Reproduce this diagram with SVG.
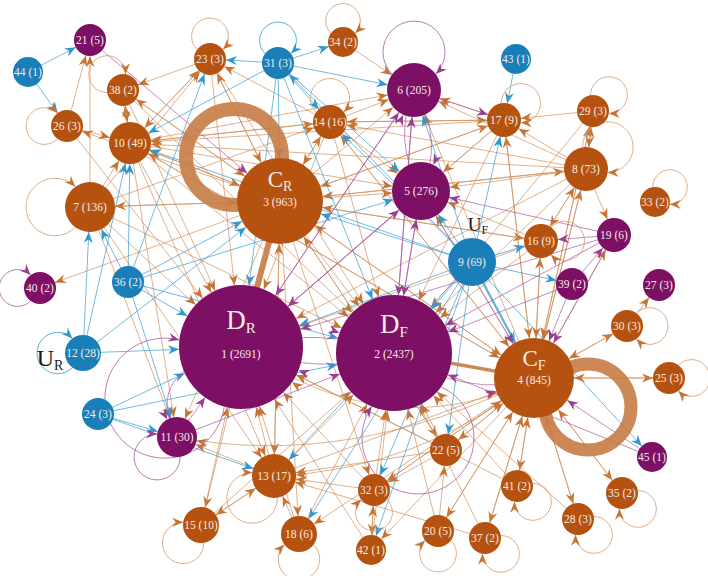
<svg xmlns="http://www.w3.org/2000/svg" xmlns:xlink="http://www.w3.org/1999/xlink" width="708" height="576" viewBox="0 0 708 576">
<style>
.eo path{fill:none;stroke:#d08a55;stroke-width:.9;stroke-opacity:.75}
.eb path{fill:none;stroke:#3c9fd2;stroke-width:.9;stroke-opacity:.8}
.ep path{fill:none;stroke:#a4559c;stroke-width:.9;stroke-opacity:.75}
.eo .a15{marker-end:url(#o15)}.eo .a16{marker-end:url(#o16)}.eo .a17{marker-end:url(#o17)}.eo .a18{marker-end:url(#o18)}.eo .a20{marker-end:url(#o20)}.eo .a21{marker-end:url(#o21)}.eo .a22{marker-end:url(#o22)}.eo .a25{marker-end:url(#o25)}.eo .a27{marker-end:url(#o27)}.eo .a29{marker-end:url(#o29)}.eo .a40{marker-end:url(#o40)}.eo .a43{marker-end:url(#o43)}.eo .a58{marker-end:url(#o58)}.eo .a62{marker-end:url(#o62)}
.eb .a15{marker-end:url(#b15)}.eb .a16{marker-end:url(#b16)}.eb .a17{marker-end:url(#b17)}.eb .a18{marker-end:url(#b18)}.eb .a20{marker-end:url(#b20)}.eb .a21{marker-end:url(#b21)}.eb .a22{marker-end:url(#b22)}.eb .a25{marker-end:url(#b25)}.eb .a27{marker-end:url(#b27)}.eb .a29{marker-end:url(#b29)}.eb .a40{marker-end:url(#b40)}.eb .a43{marker-end:url(#b43)}.eb .a58{marker-end:url(#b58)}.eb .a62{marker-end:url(#b62)}
.ep .a17{marker-end:url(#p17)}.ep .a20{marker-end:url(#p20)}.ep .a27{marker-end:url(#p27)}.ep .a29{marker-end:url(#p29)}.ep .a40{marker-end:url(#p40)}.ep .a43{marker-end:url(#p43)}.ep .a58{marker-end:url(#p58)}.ep .a62{marker-end:url(#p62)}
.lo path{fill:none;stroke:#d9a47c;stroke-width:.9;marker-end:url(#ol)}
.lb path{fill:none;stroke:#4aa6d6;stroke-width:.9;marker-end:url(#bl)}
.lp path{fill:none;stroke:#b46cab;stroke-width:.9;marker-end:url(#pl)}
.ring{fill:none;stroke:#c77c45;opacity:.9}
.no circle{fill:#b5520f}.np circle{fill:#7d0f64}.nb circle{fill:#1a7fb8}
.t{font-family:"Liberation Serif",serif;font-size:11.5px;fill:#f4ece6;text-anchor:middle}
.L{font-family:"Liberation Serif",serif;fill:#f4ece6;text-anchor:middle}
.U{font-family:"Liberation Serif",serif;fill:#1a1a1a;text-anchor:middle}
</style>
<defs>
<path id="ah" d="M0,-4.5L11,0L0,4.5L3.5,0Z"/>
<marker id="o15" refX="26" orient="auto" markerUnits="userSpaceOnUse" overflow="visible"><use href="#ah" fill="#c47535"/></marker>
<marker id="o16" refX="27" orient="auto" markerUnits="userSpaceOnUse" overflow="visible"><use href="#ah" fill="#c47535"/></marker>
<marker id="o17" refX="28" orient="auto" markerUnits="userSpaceOnUse" overflow="visible"><use href="#ah" fill="#c47535"/></marker>
<marker id="o18" refX="29" orient="auto" markerUnits="userSpaceOnUse" overflow="visible"><use href="#ah" fill="#c47535"/></marker>
<marker id="o20" refX="31" orient="auto" markerUnits="userSpaceOnUse" overflow="visible"><use href="#ah" fill="#c47535"/></marker>
<marker id="o21" refX="32" orient="auto" markerUnits="userSpaceOnUse" overflow="visible"><use href="#ah" fill="#c47535"/></marker>
<marker id="o22" refX="33" orient="auto" markerUnits="userSpaceOnUse" overflow="visible"><use href="#ah" fill="#c47535"/></marker>
<marker id="o25" refX="36" orient="auto" markerUnits="userSpaceOnUse" overflow="visible"><use href="#ah" fill="#c47535"/></marker>
<marker id="o27" refX="38" orient="auto" markerUnits="userSpaceOnUse" overflow="visible"><use href="#ah" fill="#c47535"/></marker>
<marker id="o29" refX="40" orient="auto" markerUnits="userSpaceOnUse" overflow="visible"><use href="#ah" fill="#c47535"/></marker>
<marker id="o40" refX="51" orient="auto" markerUnits="userSpaceOnUse" overflow="visible"><use href="#ah" fill="#c47535"/></marker>
<marker id="o43" refX="54" orient="auto" markerUnits="userSpaceOnUse" overflow="visible"><use href="#ah" fill="#c47535"/></marker>
<marker id="o58" refX="69" orient="auto" markerUnits="userSpaceOnUse" overflow="visible"><use href="#ah" fill="#c47535"/></marker>
<marker id="o62" refX="73" orient="auto" markerUnits="userSpaceOnUse" overflow="visible"><use href="#ah" fill="#c47535"/></marker>
<marker id="b15" refX="26" orient="auto" markerUnits="userSpaceOnUse" overflow="visible"><use href="#ah" fill="#2f98cc"/></marker>
<marker id="b16" refX="27" orient="auto" markerUnits="userSpaceOnUse" overflow="visible"><use href="#ah" fill="#2f98cc"/></marker>
<marker id="b17" refX="28" orient="auto" markerUnits="userSpaceOnUse" overflow="visible"><use href="#ah" fill="#2f98cc"/></marker>
<marker id="b18" refX="29" orient="auto" markerUnits="userSpaceOnUse" overflow="visible"><use href="#ah" fill="#2f98cc"/></marker>
<marker id="b20" refX="31" orient="auto" markerUnits="userSpaceOnUse" overflow="visible"><use href="#ah" fill="#2f98cc"/></marker>
<marker id="b21" refX="32" orient="auto" markerUnits="userSpaceOnUse" overflow="visible"><use href="#ah" fill="#2f98cc"/></marker>
<marker id="b22" refX="33" orient="auto" markerUnits="userSpaceOnUse" overflow="visible"><use href="#ah" fill="#2f98cc"/></marker>
<marker id="b25" refX="36" orient="auto" markerUnits="userSpaceOnUse" overflow="visible"><use href="#ah" fill="#2f98cc"/></marker>
<marker id="b27" refX="38" orient="auto" markerUnits="userSpaceOnUse" overflow="visible"><use href="#ah" fill="#2f98cc"/></marker>
<marker id="b29" refX="40" orient="auto" markerUnits="userSpaceOnUse" overflow="visible"><use href="#ah" fill="#2f98cc"/></marker>
<marker id="b40" refX="51" orient="auto" markerUnits="userSpaceOnUse" overflow="visible"><use href="#ah" fill="#2f98cc"/></marker>
<marker id="b43" refX="54" orient="auto" markerUnits="userSpaceOnUse" overflow="visible"><use href="#ah" fill="#2f98cc"/></marker>
<marker id="b58" refX="69" orient="auto" markerUnits="userSpaceOnUse" overflow="visible"><use href="#ah" fill="#2f98cc"/></marker>
<marker id="b62" refX="73" orient="auto" markerUnits="userSpaceOnUse" overflow="visible"><use href="#ah" fill="#2f98cc"/></marker>
<marker id="p17" refX="28" orient="auto" markerUnits="userSpaceOnUse" overflow="visible"><use href="#ah" fill="#9a3f90"/></marker>
<marker id="p20" refX="31" orient="auto" markerUnits="userSpaceOnUse" overflow="visible"><use href="#ah" fill="#9a3f90"/></marker>
<marker id="p27" refX="38" orient="auto" markerUnits="userSpaceOnUse" overflow="visible"><use href="#ah" fill="#9a3f90"/></marker>
<marker id="p29" refX="40" orient="auto" markerUnits="userSpaceOnUse" overflow="visible"><use href="#ah" fill="#9a3f90"/></marker>
<marker id="p40" refX="51" orient="auto" markerUnits="userSpaceOnUse" overflow="visible"><use href="#ah" fill="#9a3f90"/></marker>
<marker id="p43" refX="54" orient="auto" markerUnits="userSpaceOnUse" overflow="visible"><use href="#ah" fill="#9a3f90"/></marker>
<marker id="p58" refX="69" orient="auto" markerUnits="userSpaceOnUse" overflow="visible"><use href="#ah" fill="#9a3f90"/></marker>
<marker id="p62" refX="73" orient="auto" markerUnits="userSpaceOnUse" overflow="visible"><use href="#ah" fill="#9a3f90"/></marker>
<marker id="ol" refX="11" orient="auto" markerUnits="userSpaceOnUse" overflow="visible"><use href="#ah" fill="#c47535"/></marker>
<marker id="bl" refX="11" orient="auto" markerUnits="userSpaceOnUse" overflow="visible"><use href="#ah" fill="#2f98cc"/></marker>
<marker id="pl" refX="11" orient="auto" markerUnits="userSpaceOnUse" overflow="visible"><use href="#ah" fill="#9a3f90"/></marker>
</defs>
<rect width="708" height="576" fill="#ffffff"/>
<g id="connectors">
<g class="eo">
<path class="a58" d="M280 201L394 353"/><path class="a21" d="M280 201L130 143"/><path class="a25" d="M280 201L90 207"/><path class="a17" d="M280 201L330 122"/><path class="a16" d="M280 201L210 59"/><path class="a16" d="M280 201L123 90"/><path class="a27" d="M280 201L414 90"/><path class="a29" d="M280 201L421 191"/><path class="a17" d="M280 201L504 120"/><path class="a22" d="M280 201L274 476"/><path class="a20" d="M280 201L177 437"/><path class="a40" d="M280 201L534 378"/><path class="a18" d="M280 201L201 525"/><path class="a18" d="M280 201L299 534"/><path class="a16" d="M280 201L374 490"/><path class="a16" d="M280 201L446 450"/><path class="a16" d="M280 201L67 126"/><path class="a22" d="M280 201L586 169"/><path class="a17" d="M280 201L541 241"/><path class="a16" d="M280 201L40 288"/>
<path class="a62" d="M534 378Q390 450 241 347"/><path class="a43" d="M534 378L280 201"/><path class="a29" d="M534 378L421 191"/><path class="a27" d="M534 378L414 90"/><path class="a22" d="M534 378L586 169"/><path class="a17" d="M534 378L541 241"/><path class="a17" d="M534 378L504 120"/><path class="a16" d="M534 378L669 378"/><path class="a16" d="M534 378L627 326"/><path class="a16" d="M534 378L517 486"/><path class="a16" d="M534 378L578 519"/><path class="a16" d="M534 378L622 493"/><path class="a16" d="M534 378L485 538"/><path class="a16" d="M534 378L438 531"/><path class="a16" d="M534 378L446 450"/><path class="a22" d="M534 378Q420 470 274 476"/><path class="a16" d="M534 378L374 490"/><path class="a15" d="M534 378L371 550"/><path class="a17" d="M534 378L330 122"/><path class="a21" d="M534 378L130 143"/><path class="a16" d="M534 378L593 111"/><path class="a17" d="M534 378L614 235"/><path class="a18" d="M534 378L299 534"/><path class="a20" d="M534 378Q350 470 177 437"/>
<path class="a62" d="M90 207L241 347"/><path class="a58" d="M90 207L394 353"/><path class="a43" d="M90 207L280 201"/><path class="a21" d="M90 207L130 143"/><path class="a22" d="M90 207L274 476"/><path class="a20" d="M90 207L177 437"/><path class="a16" d="M90 207L210 59"/><path class="a16" d="M90 207L90 40"/><path class="a17" d="M90 207L330 122"/>
<path class="a62" d="M130 143L241 347"/><path class="a58" d="M130 143L394 353"/><path class="a43" d="M130 143L280 201"/><path class="a16" d="M130 143L123 90"/><path class="a22" d="M130 143L274 476"/><path class="a20" d="M130 143L177 437"/><path class="a16" d="M130 143L210 59"/><path class="a29" d="M130 143L421 191"/><path class="a17" d="M130 143L330 122"/><path class="a27" d="M130 143L414 90"/><path class="a40" d="M130 143L534 378"/>
<path class="a58" d="M586 169L394 353"/><path class="a62" d="M586 169L241 347"/><path class="a40" d="M586 169L534 378"/><path class="a29" d="M586 169L421 191"/><path class="a17" d="M586 169L504 120"/><path class="a43" d="M586 169L280 201"/><path class="a17" d="M586 169L614 235"/><path class="a17" d="M586 169L541 241"/><path class="a21" d="M586 169L130 143"/><path class="a17" d="M586 169L330 122"/><path class="a16" d="M586 169L593 111"/><path class="a27" d="M586 169L414 90"/>
<path class="a62" d="M330 122L241 347"/><path class="a58" d="M330 122L394 353"/><path class="a43" d="M330 122L280 201"/><path class="a27" d="M330 122L414 90"/><path class="a29" d="M330 122L421 191"/><path class="a21" d="M330 122L130 143"/><path class="a16" d="M330 122L210 59"/><path class="a40" d="M330 122L534 378"/><path class="a17" d="M330 122L504 120"/>
<path class="a58" d="M504 120L394 353"/><path class="a29" d="M504 120L421 191"/><path class="a62" d="M504 120L241 347"/><path class="a43" d="M504 120L280 201"/><path class="a40" d="M504 120L534 378"/><path class="a27" d="M504 120L414 90"/><path class="a17" d="M504 120L330 122"/><path class="a21" d="M504 120L130 143"/>
<path class="a58" d="M541 241L394 353"/><path class="a40" d="M541 241L534 378"/><path class="a29" d="M541 241L421 191"/><path class="a62" d="M541 241L241 347"/><path class="a43" d="M541 241L280 201"/><path class="a22" d="M541 241L586 169"/>
<path class="a62" d="M274 476L241 347"/><path class="a58" d="M274 476L394 353"/><path class="a20" d="M274 476L177 437"/><path class="a40" d="M274 476L534 378"/><path class="a18" d="M274 476L201 525"/><path class="a43" d="M274 476L280 201"/>
<path class="a62" d="M446 450L241 347"/><path class="a58" d="M446 450L394 353"/><path class="a40" d="M446 450L534 378"/><path class="a22" d="M446 450L274 476"/><path class="a16" d="M446 450L374 490"/><path class="a43" d="M446 450L280 201"/>
<path class="a62" d="M374 490L241 347"/><path class="a58" d="M374 490L394 353"/><path class="a22" d="M374 490L274 476"/><path class="a15" d="M374 490L371 550"/><path class="a40" d="M374 490L534 378"/>
<path class="a62" d="M299 534L241 347"/><path class="a22" d="M299 534L274 476"/><path class="a58" d="M299 534L394 353"/>
<path class="a62" d="M201 525L241 347"/><path class="a22" d="M201 525L274 476"/><path class="a58" d="M201 525L394 353"/>
<path class="a58" d="M438 531L394 353"/><path class="a40" d="M438 531L534 378"/><path class="a16" d="M438 531L446 450"/>
<path class="a40" d="M517 486L534 378"/><path class="a58" d="M517 486L394 353"/><path class="a62" d="M517 486L241 347"/>
<path class="a40" d="M578 519L534 378"/><path class="a58" d="M578 519L394 353"/>
<path class="a40" d="M622 493L534 378"/>
<path class="a40" d="M485 538L534 378"/><path class="a58" d="M485 538L394 353"/><path class="a22" d="M485 538L274 476"/>
<path class="a58" d="M371 550L394 353"/><path class="a62" d="M371 550L241 347"/><path class="a16" d="M371 550L374 490"/>
<path class="a40" d="M669 378L534 378"/>
<path class="a40" d="M627 326L534 378"/><path class="a16" d="M627 326L659 285"/>
<path class="a62" d="M210 59L241 347"/><path class="a43" d="M210 59L280 201"/><path class="a21" d="M210 59L130 143"/><path class="a58" d="M210 59L394 353"/><path class="a16" d="M210 59L123 90"/>
<path class="a21" d="M123 90L130 143"/><path class="a62" d="M123 90L241 347"/><path class="a43" d="M123 90L280 201"/><path class="a58" d="M123 90L394 353"/>
<path class="a16" d="M67 126L90 40"/><path class="a21" d="M67 126L130 143"/><path class="a62" d="M67 126L241 347"/>
<path class="a17" d="M593 111L504 120"/><path class="a22" d="M593 111L586 169"/><path class="a40" d="M593 111L534 378"/><path class="a58" d="M593 111L394 353"/>
<path class="a27" d="M343 42L414 90"/>
</g>
<g class="eb">
<path class="a16" d="M28 72L90 40"/><path class="a16" d="M28 72L67 126"/><path class="a17" d="M516 59L504 120"/>
<path class="a15" d="M278 63L343 42"/><path class="a27" d="M278 63L414 90"/><path class="a17" d="M278 63L330 122"/><path class="a43" d="M278 63L280 201"/><path class="a21" d="M278 63L130 143"/><path class="a29" d="M278 63L421 191"/><path class="a62" d="M278 63L241 347"/><path class="a58" d="M278 63L394 353"/><path class="a16" d="M278 63L210 59"/>
<path class="a25" d="M128 282L90 207"/><path class="a21" d="M128 282L130 143"/><path class="a43" d="M128 282L280 201"/><path class="a62" d="M128 282L241 347"/><path class="a16" d="M128 282L210 59"/><path class="a29" d="M128 282L421 191"/><path class="a58" d="M128 282L394 353"/><path class="a20" d="M128 282L177 437"/>
<path class="a25" d="M83 353L90 207"/><path class="a62" d="M83 353L241 347"/><path class="a21" d="M83 353L130 143"/><path class="a43" d="M83 353L280 201"/>
<path class="a62" d="M98 414L241 347"/><path class="a20" d="M98 414L177 437"/><path class="a22" d="M98 414L274 476"/><path class="a58" d="M98 414L394 353"/>
<path class="a17" d="M472 262L504 120"/><path class="a17" d="M472 262L541 241"/><path class="a40" d="M472 262L534 378" style="stroke-width:2.2"/><path class="a58" d="M472 262L394 353"/><path class="a29" d="M472 262L421 191"/><path class="a27" d="M472 262L414 90"/><path class="a17" d="M472 262L330 122"/><path class="a16" d="M472 262L572 284"/><path class="a15" d="M472 262L652 457"/><path class="a62" d="M472 262L241 347"/><path class="a43" d="M472 262L280 201"/><path class="a22" d="M472 262L274 476"/><path class="a16" d="M472 262L374 490"/><path class="a15" d="M472 262L371 550"/><path class="a18" d="M472 262L299 534"/><path class="a16" d="M472 262L278 63"/><path class="a21" d="M472 262L130 143"/><path class="a16" d="M472 262L446 450"/>
</g>
<g class="ep">
<path class="a58" d="M241 347Q318 325 394 353"/><path class="a62" d="M394 353Q318 378 241 347"/><path class="a62" d="M421 191L241 347"/><path class="a58" d="M421 191L394 353"/><path class="a62" d="M414 90L241 347"/><path class="a58" d="M414 90L394 353"/><path class="a29" d="M414 90Q445 140 421 191"/><path class="a27" d="M421 191Q392 140 414 90"/>
<path class="a62" d="M177 437L241 347"/><path class="a58" d="M177 437L394 353"/><path class="a20" d="M241 347Q140 370 177 437"/>
<path class="a58" d="M614 235L394 353"/><path class="a40" d="M614 235L534 378"/><path class="a62" d="M614 235L241 347"/><path class="a17" d="M614 235L541 241"/><path class="a29" d="M614 235L421 191"/>
<path class="a40" d="M572 284L534 378"/><path class="a58" d="M572 284L394 353"/><path class="a17" d="M572 284L614 235"/>
<path class="a40" d="M652 457L534 378"/><path class="a58" d="M652 457L394 353"/><path class="a43" d="M90 40L280 201"/>
<path class="a29" d="M394 353L421 191"/><path class="a29" d="M241 347L421 191"/><path class="a27" d="M394 353L414 90"/><path class="a27" d="M241 347L414 90"/><path class="a40" d="M421 191L534 378"/><path class="a40" d="M394 353Q470 400 534 378"/><path class="a17" d="M414 90L504 120"/>
</g>
<path d="M280 201L241 347" fill="none" stroke="#c77c45" stroke-width="6" opacity=".9"/>
<path d="M534 378L394 353" fill="none" stroke="#c77c45" stroke-width="3.5" opacity=".9"/>
<circle class="ring" cx="234" cy="157" r="48" stroke-width="14"/>
<circle class="ring" cx="588" cy="407" r="43" stroke-width="13"/>
<g class="lo">
<path d="M107.2 92.5A18.4 18.4 0 1 1 125.5 74.2"/><path d="M57.6 138.9A18.4 18.4 0 1 1 57.6 113.1"/><path d="M197.1 49.6A18.4 18.4 0 1 1 222.9 49.6"/><path d="M330.9 33.2A17.3 17.3 0 1 1 355.1 33.2"/><path d="M316.2 112A19.6 19.6 0 1 1 343.8 112"/><path d="M501.3 103.2A19.6 19.6 0 1 1 520.8 122.7"/><path d="M590.5 95.2A18.4 18.4 0 1 1 608.8 113.5"/><path d="M582.6 147.3A25.3 25.3 0 1 1 607.7 172.4"/><path d="M652.7 187.2A17.3 17.3 0 1 1 669.8 204.3"/><path d="M551 227.2A19.6 19.6 0 1 1 551 254.8"/><path d="M636.4 313.1A18.4 18.4 0 1 1 636.4 338.9"/><path d="M678.4 365.1A18.4 18.4 0 1 1 678.4 390.9"/><path d="M637.8 490.5A18.4 18.4 0 1 1 619.5 508.8"/><path d="M593.8 516.5A18.4 18.4 0 1 1 575.5 534.8"/><path d="M532.8 483.5A18.4 18.4 0 1 1 514.5 501.8"/><path d="M500.8 535.5A18.4 18.4 0 1 1 482.5 553.8"/><path d="M450.9 540.4A18.4 18.4 0 1 1 425.1 540.4"/><path d="M386.9 499.4A18.4 18.4 0 1 1 361.1 499.4"/><path d="M313.6 544.6A20.7 20.7 0 1 1 284.4 544.6"/><path d="M277.4 497.7A25.3 25.3 0 1 1 252.3 472.6"/><path d="M203.8 542.8A20.7 20.7 0 1 1 183.2 522.2"/><path d="M75.3 227.2A28.8 28.8 0 1 1 75.3 186.8"/>
</g>
<g class="lb">
<path d="M265.1 53.6A18.4 18.4 0 1 1 290.9 53.6"/><path d="M72.4 367.6A20.7 20.7 0 1 1 72.4 338.4"/>
</g>
<g class="lp">
<path d="M392.2 74.1A31 31 0 1 1 435.8 74.1"/><path d="M180.1 456.8A23 23 0 1 1 157.2 433.9"/><path d="M30.6 300.9A18.4 18.4 0 1 1 30.6 275.1"/><path d="M224.3 406.7A60 60 0 1 1 179.4 339.9"/><path d="M441 386.9A56 56 0 1 1 371.7 406.5"/>
</g>
</g>
<g id="n1" class="np"><circle cx="241" cy="347" r="62"/><text class="L" x="241" y="329" font-size="27">D<tspan font-size="15" dy="4">R</tspan></text><text class="t" x="241" y="358">1 (2691)</text></g>
<g id="n2" class="np"><circle cx="394" cy="353" r="58"/><text class="L" x="394" y="333" font-size="27">D<tspan font-size="15" dy="4">F</tspan></text><text class="t" x="394" y="358">2 (2437)</text></g>
<g id="n3" class="no"><circle cx="280" cy="201" r="43"/><text class="L" x="280" y="187" font-size="23">C<tspan font-size="14" dy="4">R</tspan></text><text class="t" x="280" y="206">3 (963)</text></g>
<g id="n4" class="no"><circle cx="534" cy="378" r="40"/><text class="L" x="534" y="366" font-size="23">C<tspan font-size="14" dy="4">F</tspan></text><text class="t" x="534" y="384">4 (845)</text></g>
<g id="n5" class="np"><circle cx="421" cy="191" r="29"/><text class="t" x="421" y="195">5 (276)</text></g>
<g id="n6" class="np"><circle cx="414" cy="90" r="27"/><text class="t" x="414" y="94">6 (205)</text></g>
<g id="n7" class="no"><circle cx="90" cy="207" r="25"/><text class="t" x="90" y="211">7 (136)</text></g>
<g id="n8" class="no"><circle cx="586" cy="169" r="22"/><text class="t" x="586" y="173">8 (73)</text></g>
<g id="n9" class="nb"><circle cx="472" cy="262" r="24"/><text class="t" x="472" y="266">9 (69)</text></g>
<g id="n10" class="no"><circle cx="130" cy="143" r="21"/><text class="t" x="130" y="147">10 (49)</text></g>
<g id="n11" class="np"><circle cx="177" cy="437" r="20"/><text class="t" x="177" y="441">11 (30)</text></g>
<g id="n12" class="nb"><circle cx="83" cy="353" r="18"/><text class="t" x="83" y="357">12 (28)</text></g>
<g id="n13" class="no"><circle cx="274" cy="476" r="22"/><text class="t" x="274" y="480">13 (17)</text></g>
<g id="n14" class="no"><circle cx="330" cy="122" r="17"/><text class="t" x="330" y="126">14 (16)</text></g>
<g id="n15" class="no"><circle cx="201" cy="525" r="18"/><text class="t" x="201" y="529">15 (10)</text></g>
<g id="n16" class="no"><circle cx="541" cy="241" r="17"/><text class="t" x="541" y="245">16 (9)</text></g>
<g id="n17" class="no"><circle cx="504" cy="120" r="17"/><text class="t" x="504" y="124">17 (9)</text></g>
<g id="n18" class="no"><circle cx="299" cy="534" r="18"/><text class="t" x="299" y="538">18 (6)</text></g>
<g id="n19" class="np"><circle cx="614" cy="235" r="17"/><text class="t" x="614" y="239">19 (6)</text></g>
<g id="n20" class="no"><circle cx="438" cy="531" r="16"/><text class="t" x="438" y="535">20 (5)</text></g>
<g id="n21" class="np"><circle cx="90" cy="40" r="16"/><text class="t" x="90" y="44">21 (5)</text></g>
<g id="n22" class="no"><circle cx="446" cy="450" r="16"/><text class="t" x="446" y="454">22 (5)</text></g>
<g id="n23" class="no"><circle cx="210" cy="59" r="16"/><text class="t" x="210" y="63">23 (3)</text></g>
<g id="n24" class="nb"><circle cx="98" cy="414" r="16"/><text class="t" x="98" y="418">24 (3)</text></g>
<g id="n25" class="no"><circle cx="669" cy="378" r="16"/><text class="t" x="669" y="382">25 (3)</text></g>
<g id="n26" class="no"><circle cx="67" cy="126" r="16"/><text class="t" x="67" y="130">26 (3)</text></g>
<g id="n27" class="np"><circle cx="659" cy="285" r="16"/><text class="t" x="659" y="289">27 (3)</text></g>
<g id="n28" class="no"><circle cx="578" cy="519" r="16"/><text class="t" x="578" y="523">28 (3)</text></g>
<g id="n29" class="no"><circle cx="593" cy="111" r="16"/><text class="t" x="593" y="115">29 (3)</text></g>
<g id="n30" class="no"><circle cx="627" cy="326" r="16"/><text class="t" x="627" y="330">30 (3)</text></g>
<g id="n31" class="nb"><circle cx="278" cy="63" r="16"/><text class="t" x="278" y="67">31 (3)</text></g>
<g id="n32" class="no"><circle cx="374" cy="490" r="16"/><text class="t" x="374" y="494">32 (3)</text></g>
<g id="n33" class="no"><circle cx="655" cy="202" r="15"/><text class="t" x="655" y="206">33 (2)</text></g>
<g id="n34" class="no"><circle cx="343" cy="42" r="15"/><text class="t" x="343" y="46">34 (2)</text></g>
<g id="n35" class="no"><circle cx="622" cy="493" r="16"/><text class="t" x="622" y="497">35 (2)</text></g>
<g id="n36" class="nb"><circle cx="128" cy="282" r="16"/><text class="t" x="128" y="286">36 (2)</text></g>
<g id="n37" class="no"><circle cx="485" cy="538" r="16"/><text class="t" x="485" y="542">37 (2)</text></g>
<g id="n38" class="no"><circle cx="123" cy="90" r="16"/><text class="t" x="123" y="94">38 (2)</text></g>
<g id="n39" class="np"><circle cx="572" cy="284" r="16"/><text class="t" x="572" y="288">39 (2)</text></g>
<g id="n40" class="np"><circle cx="40" cy="288" r="16"/><text class="t" x="40" y="292">40 (2)</text></g>
<g id="n41" class="no"><circle cx="517" cy="486" r="16"/><text class="t" x="517" y="490">41 (2)</text></g>
<g id="n42" class="no"><circle cx="371" cy="550" r="15"/><text class="t" x="371" y="554">42 (1)</text></g>
<g id="n43" class="nb"><circle cx="516" cy="59" r="15"/><text class="t" x="516" y="63">43 (1)</text></g>
<g id="n44" class="nb"><circle cx="28" cy="72" r="15"/><text class="t" x="28" y="76">44 (1)</text></g>
<g id="n45" class="np"><circle cx="652" cy="457" r="15"/><text class="t" x="652" y="461">45 (1)</text></g>
<text class="U" x="50" y="366" font-size="24">U<tspan font-size="14" dy="4">R</tspan></text>
<text class="U" x="478" y="231" font-size="19">U<tspan font-size="12" dy="3">F</tspan></text>
</svg>
